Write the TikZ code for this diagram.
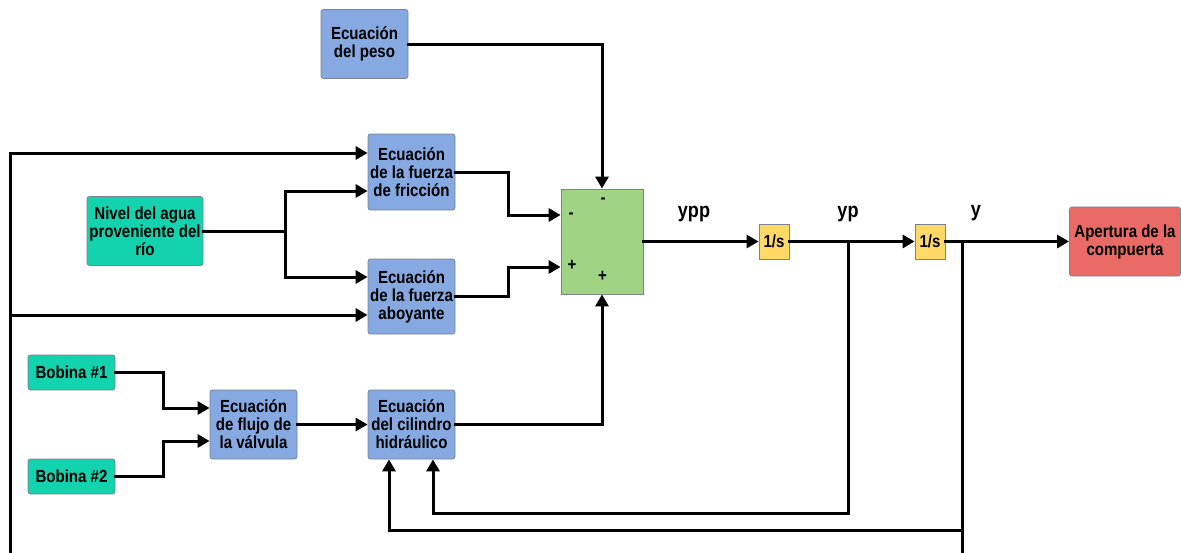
\documentclass[tikz,border=0pt]{standalone}
\usepackage{fontspec}
\setmainfont{Liberation Sans}
\newfontfamily\cond[FakeStretch=0.86]{Liberation Sans}
\usetikzlibrary{arrows.meta,calc}
\definecolor{cblue}{HTML}{86A9E2}
\definecolor{cteal}{HTML}{12D3AE}
\definecolor{cgreen}{HTML}{A0D484}
\definecolor{cyellow}{HTML}{FFD966}
\definecolor{cred}{HTML}{EA6B66}
\definecolor{cbord}{HTML}{7A8190}
\begin{document}
\begin{tikzpicture}[x=1pt,y=-1pt,
  box/.style={draw=cbord,line width=0.8pt,rounded corners=2.5pt,inner sep=0pt,align=center,
    font=\cond\fontsize{17.5}{18}\selectfont\bfseries},
  eqbox/.style={box,fill=cblue,minimum width=87pt},
  inbox/.style={box,fill=cteal},
  wire/.style={line width=3pt,line cap=rect,line join=miter},
  arr/.style={wire,-{Triangle[length=12pt,width=13pt]}},
  lbl/.style={font=\cond\fontsize{21}{22}\selectfont\bfseries,inner sep=0pt},
  sgn/.style={font=\cond\fontsize{17.5}{18}\selectfont\bfseries,inner sep=0pt}]
\useasboundingbox (0,0) rectangle (1181,552);
% blocks
\node[eqbox,minimum height=69pt] (peso) at (364.5,44) {Ecuación\\del peso};
\node[eqbox,minimum height=76pt] (fric) at (411.5,172) {Ecuación\\de la fuerza\\de fricción};
\node[eqbox,minimum height=75pt] (aboy) at (411.5,296.5) {Ecuación\\de la fuerza\\aboyante};
\node[inbox,minimum width=116pt,minimum height=69pt] (nivel) at (145,231) {Nivel del agua\\proveniente del\\río};
\node[box,fill=cgreen,rounded corners=0pt,minimum width=82pt,minimum height=105pt] (sum) at (602,241.5) {};
\node[box,fill=cyellow,rounded corners=0pt,minimum width=30pt,minimum height=35pt] (int1) at (774,241.5) {1/s};
\node[box,fill=cyellow,rounded corners=0pt,minimum width=30pt,minimum height=35pt] (int2) at (930,241.5) {1/s};
\node[box,fill=cred,minimum width=111pt,minimum height=69pt] (aper) at (1125,241.5) {Apertura de la\\compuerta};
\node[inbox,minimum width=87pt,minimum height=35pt] (bob1) at (71.5,372.5) {Bobina \#1};
\node[inbox,minimum width=87pt,minimum height=35pt] (bob2) at (71.5,476.5) {Bobina \#2};
\node[eqbox,minimum height=69pt] (valv) at (253.5,424.5) {Ecuación\\de flujo de\\la válvula};
\node[eqbox,minimum height=69pt] (cil) at (411.5,424.5) {Ecuación\\del cilindro\\hidráulico};
% signs
\node[sgn] (s1) at (571,216) {-};
\node[sgn] (s2) at (603,201) {-};
\node[sgn] (s3) at (572,265) {+};
\node[sgn] (s4) at (602.5,276) {+};
% labels
\node[lbl] (l1) at (694,214) {ypp};
\node[lbl] (l2) at (848,214) {yp};
\node[lbl] (l3) at (976,213) {y};
% coordinates
\coordinate (split) at (285,231);
\coordinate (bp) at (848,242);
\coordinate (by) at (962,242);
\coordinate (byb) at (962,552);
\coordinate (lb) at (10,552);
\coordinate (lt) at (10,153);
\coordinate (lm) at (10,315);
% connectors
\draw[arr] (peso.east) -| (sum.north);
\draw[arr] (fric.east) -- ++(53,0) |- ([yshift=26.5pt]sum.west);
\draw[arr] (aboy.east) -- ++(53,0) |- ([yshift=-25.5pt]sum.west);
\draw[wire] (nivel.east) -- (split);
\draw[arr] (split) |- ([yshift=-19pt]fric.west);
\draw[arr] (split) |- ([yshift=19.5pt]aboy.west);
\draw[arr] (sum.east) -- (int1.west);
\draw[arr] (int1.east) -- (int2.west);
\draw[arr] (int2.east) -- (aper.west);
\draw[arr] (bob1.east) -- ++(48,0) |- ([yshift=16.5pt]valv.west);
\draw[arr] (bob2.east) -- ++(48,0) |- ([yshift=-16.5pt]valv.west);
\draw[arr] (valv.east) -- (cil.west);
\draw[arr] (cil.east) -| (sum.south);
\draw[arr] (bp) -- ++(0,271) -| ([xshift=21.5pt]cil.south);
\draw[arr] (by) -- ++(0,288) -| ([xshift=-22.5pt]cil.south);
\draw[wire] (by) -- (byb);
\draw[arr] (lb) -- (lt) -- ([yshift=19pt]fric.west);
\draw[arr] (lm) -- ([yshift=-18.5pt]aboy.west);
\end{tikzpicture}
\end{document}
